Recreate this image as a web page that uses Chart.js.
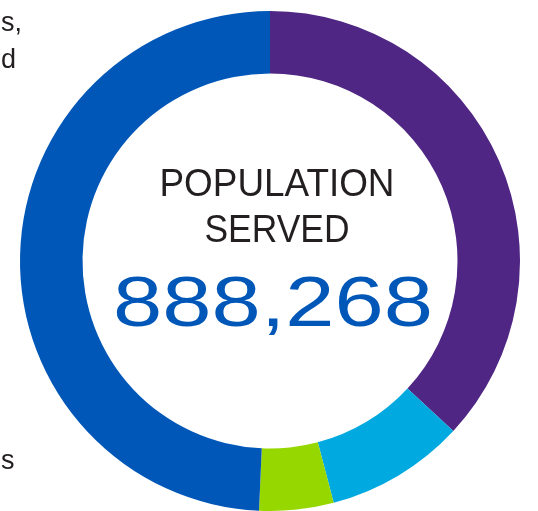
<!DOCTYPE html>
<html>
<head>
<meta charset="utf-8">
<script src="https://cdn.jsdelivr.net/npm/chart.js@4.4.0/dist/chart.umd.min.js"></script>
<style>
  html, body { margin: 0; padding: 0; background: #fff; }
  #wrap { position: relative; width: 538px; height: 511px; overflow: hidden; }
  canvas { position: absolute; left: 0; top: 0; }
  .edge { position: absolute; left: 1px; font-family: "Liberation Sans", Arial, sans-serif;
          font-size: 27px; color: #231f20; line-height: 1; }
</style>
</head>
<body>
<div id="wrap">
  <canvas id="chartDonut" width="538" height="511"></canvas>
  <div class="edge" style="top:9px">s,</div>
  <div class="edge" style="top:46px">d</div>
  <div class="edge" style="top:447px">s</div>
</div>
<script>
"use strict";

// segments clockwise from 12 o'clock (share of population, %)
var segLabels = ['Purple', 'Cyan', 'Green', 'Blue'];
var segValues = [36.9, 9.0, 4.8, 49.3];
var segColors = ['#4f2683', '#00a9df', '#97d700', '#0057b8'];

var titleLines = ['POPULATION', 'SERVED'];
var totalText = '888,268';

// draws the text inside the ring, fitted to fixed widths relative to the radius
var centerText = {
  id: 'centerText',
  afterDraw: function(chart) {
    var arc = chart.getDatasetMeta(0).data[0];
    if (!arc) return;
    var cx = arc.x, cy = arc.y, r = arc.outerRadius;
    var ctx = chart.ctx;

    function fitted(text, size, color, width, dx, baseline) {
      ctx.save();
      ctx.font = 'normal ' + size + 'px "Liberation Sans", Arial, sans-serif';
      ctx.fillStyle = color;
      ctx.textAlign = 'center';
      ctx.textBaseline = 'alphabetic';
      var w = ctx.measureText(text).width;
      ctx.translate(cx + dx, baseline);
      ctx.scale(width / w, 1);
      ctx.fillText(text, 0, 0);
      ctx.restore();
    }

    fitted(titleLines[0], 38, '#231f20', r * 0.94, r * 0.028, cy - r * 0.262);
    fitted(titleLines[1], 38, '#231f20', r * 0.58, r * 0.028, cy - r * 0.078);
    fitted(totalText, 70, '#0057b8', r * 1.28, r * 0.012, cy + r * 0.26);
  }
};

new Chart(document.getElementById('chartDonut'), {
  type: 'doughnut',
  data: {
    labels: segLabels,
    datasets: [{
      data: segValues,
      backgroundColor: segColors,
      borderWidth: 0,
      hoverOffset: 0
    }]
  },
  options: {
    responsive: false,
    animation: false,
    cutout: '75%',
    rotation: 0,
    layout: { padding: { left: 20, right: 18, top: 11, bottom: 0 } },
    plugins: {
      legend: { display: false },
      tooltip: { enabled: false }
    }
  },
  plugins: [centerText]
});
</script>
</body>
</html>
